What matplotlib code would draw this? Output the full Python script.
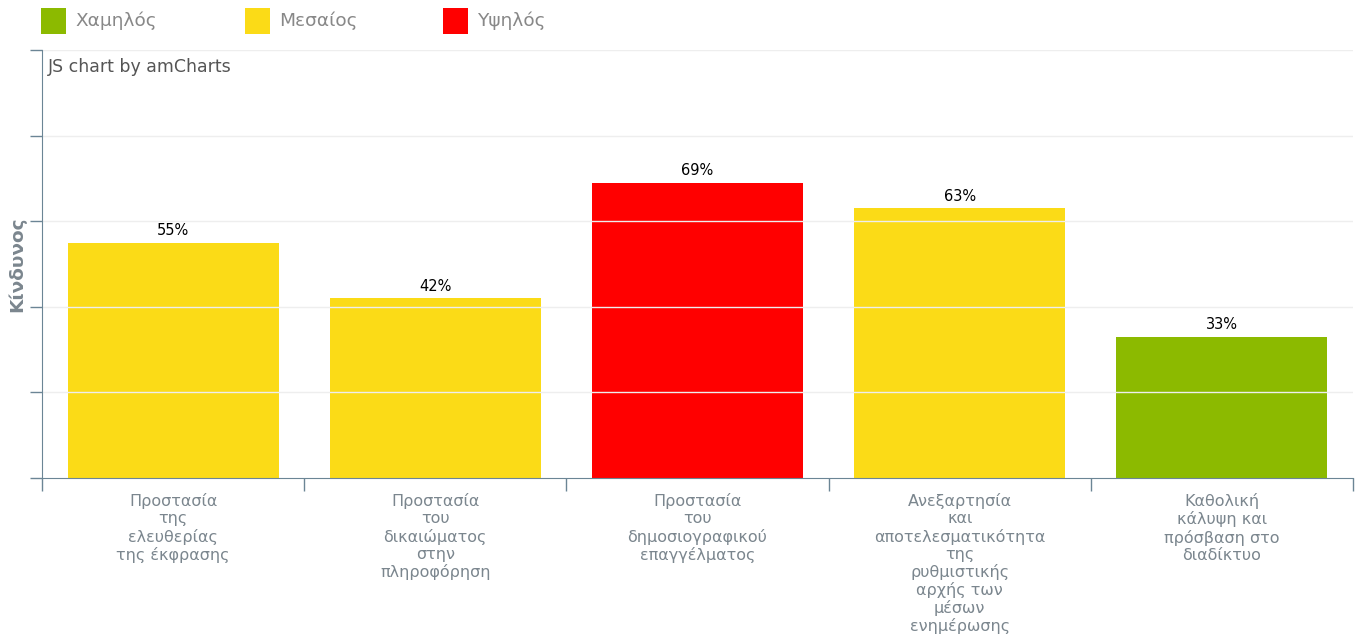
import numpy as np
import matplotlib.pyplot as plt
from matplotlib.patches import Rectangle

# data
categories = [
    "Προστασία\nτης\nελευθερίας\nτης έκφρασης",
    "Προστασία\nτου\nδικαιώματος\nστην\nπληροφόρηση",
    "Προστασία\nτου\nδημοσιογραφικού\nεπαγγέλματος",
    "Ανεξαρτησία\nκαι\nαποτελεσματικότητα\nτης\nρυθμιστικής\nαρχής των\nμέσων\nενημέρωσης",
    "Καθολική\nκάλυψη και\nπρόσβαση στο\nδιαδίκτυο",
]
values = [55, 42, 69, 63, 33]
levels = ["Μεσαίος", "Μεσαίος", "Υψηλός", "Μεσαίος", "Χαμηλός"]
legend_labels = ["Χαμηλός", "Μεσαίος", "Υψηλός"]

colors = {"Χαμηλός": "#8cba00", "Μεσαίος": "#fbdb17", "Υψηλός": "#ff0000"}
axis_col = "#6b8595"
text_col = "#7b868e"

plt.rcParams['font.family'] = ['DejaVu Sans']

W, H = 1357, 634
fig = plt.figure(figsize=(W / 100, H / 100), dpi=100)
ax = fig.add_axes([42 / W, 156 / H, 1311 / W, 428 / H])

x = np.arange(len(values))
ax.bar(x, values, width=0.805, color=[colors[l] for l in levels], zorder=1)
for xi, v in zip(x, values):
    ax.text(xi, v + 1.0, f"{v}%", ha="center", va="bottom", fontsize=10.5, color="#000000")

ax.set_xlim(-0.5, len(values) - 0.5)
ax.set_ylim(0, 100)
ax.set_yticks(np.arange(0, 101, 20))
ax.set_yticklabels([])
ax.set_xticks(np.arange(-0.5, len(values), 1))
ax.set_xticklabels([])
ax.set_xticks(x, minor=True)
ax.set_xticklabels(categories, minor=True, fontsize=11.5, color=text_col, linespacing=1.17)
ax.tick_params(axis="x", which="minor", length=0, pad=11)
ax.tick_params(axis="x", which="major", direction="out", length=9, color=axis_col, width=1)
ax.tick_params(axis="y", direction="out", length=9, color=axis_col, width=1)

for y in np.arange(20, 101, 20):
    ax.axhline(y, color="#eeeeee", lw=1, zorder=2)

for s in ["top", "right"]:
    ax.spines[s].set_visible(False)
ax.spines["left"].set_color(axis_col)
ax.spines["bottom"].set_color(axis_col)

ax.set_ylabel("Κίνδυνος", fontsize=13.3, fontweight="bold", color=text_col)
ax.yaxis.set_label_coords(-16 / 1311, 0.5)

ax.text(6 / 1311, 1 - 17 / 428, "JS chart by amCharts", transform=ax.transAxes,
        fontsize=12.5, color="#555555", ha="left", va="center")

# legend drawn by hand
leg_x = [41, 245, 443]
for lx, lab in zip(leg_x, legend_labels):
    fig.patches.append(Rectangle((lx / W, 1 - 34 / H), 25 / W, 26 / H,
                                 transform=fig.transFigure, facecolor=colors[lab],
                                 edgecolor="none"))
    fig.text((lx + 34) / W, 1 - 21 / H, lab, fontsize=13.3, color="#888888",
             ha="left", va="center")

fig.savefig("out.png", dpi=100)
